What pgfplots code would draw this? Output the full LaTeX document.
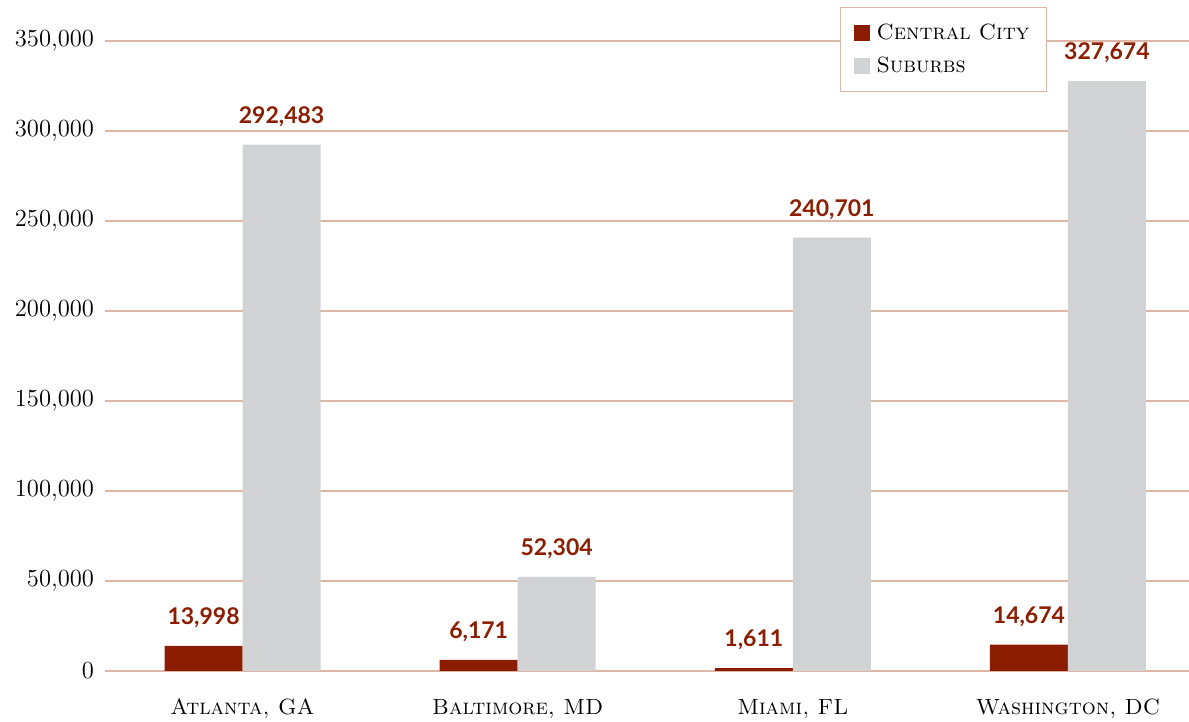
\documentclass[border=0pt]{standalone}
\usepackage{fontspec}
\usepackage{pgfplots}
\pgfplotsset{compat=1.18}
\newfontfamily\numfont{Lato}
\definecolor{cc}{RGB}{139,30,0}
\definecolor{sub}{RGB}{209,210,212}
\definecolor{gridc}{RGB}{222,182,165}
\begin{document}
\begin{tikzpicture}
\begin{axis}[
  name=ax,
  at={(0,0)}, anchor=south west,
  scale only axis,
  width=542pt, height=315pt,
  ybar=0pt, bar width=39pt,
  xmin=-0.5, xmax=3.44,
  ymin=0, ymax=350000,
  xtick={0,1,2,3},
  xticklabels={{Atlanta, GA},{Baltimore, MD},{Miami, FL},{Washington, DC}},
  xticklabel style={font=\fontsize{11}{13}\selectfont\scshape, yshift=-10.5pt},
  ytick={0,50000,100000,150000,200000,250000,300000,350000},
  yticklabels={0,{50,000},{100,000},{150,000},{200,000},{250,000},{300,000},{350,000}},
  yticklabel style={font=\fontsize{12.3}{14}\selectfont, xshift=-2pt},
  scaled y ticks=false,
  ymajorgrids, grid style={gridc, line width=0.6pt},
  major tick length=0pt,
  axis line style={draw=none},
  point meta=explicit symbolic,
  nodes near coords,
  every node near coord/.append style={font=\fontsize{11.5}{14}\selectfont\numfont\bfseries, color=cc, yshift=5.5pt},
  legend style={at={(0.678,1.054)}, anchor=north west, draw=gridc, line width=0.6pt,
    font=\fontsize{11}{13}\selectfont\scshape, row sep=3.5pt, inner xsep=6.5pt, inner ysep=6pt,
    cells={anchor=west}},
  legend image code/.code={\fill[#1,draw=none] (0pt,-4pt) rectangle (8pt,4pt);},
  clip=false,
]
\addplot[fill=cc, draw=none] coordinates {(0,13998) [13{,}998] (1,6171) [6{,}171] (2,1611) [1{,}611] (3,14674) [14{,}674]};
\addplot[fill=sub, draw=none] coordinates {(0,292483) [292{,}483] (1,52304) [52{,}304] (2,240701) [240{,}701] (3,327674) [327{,}674]};
\legend{\hspace{1.5pt}Central City\hspace{5pt}, \hspace{1.5pt}Suburbs}
\end{axis}
\pgfresetboundingbox
\path (-52.5pt,-25.5pt) rectangle (542pt,335.5pt);
\end{tikzpicture}
\end{document}
